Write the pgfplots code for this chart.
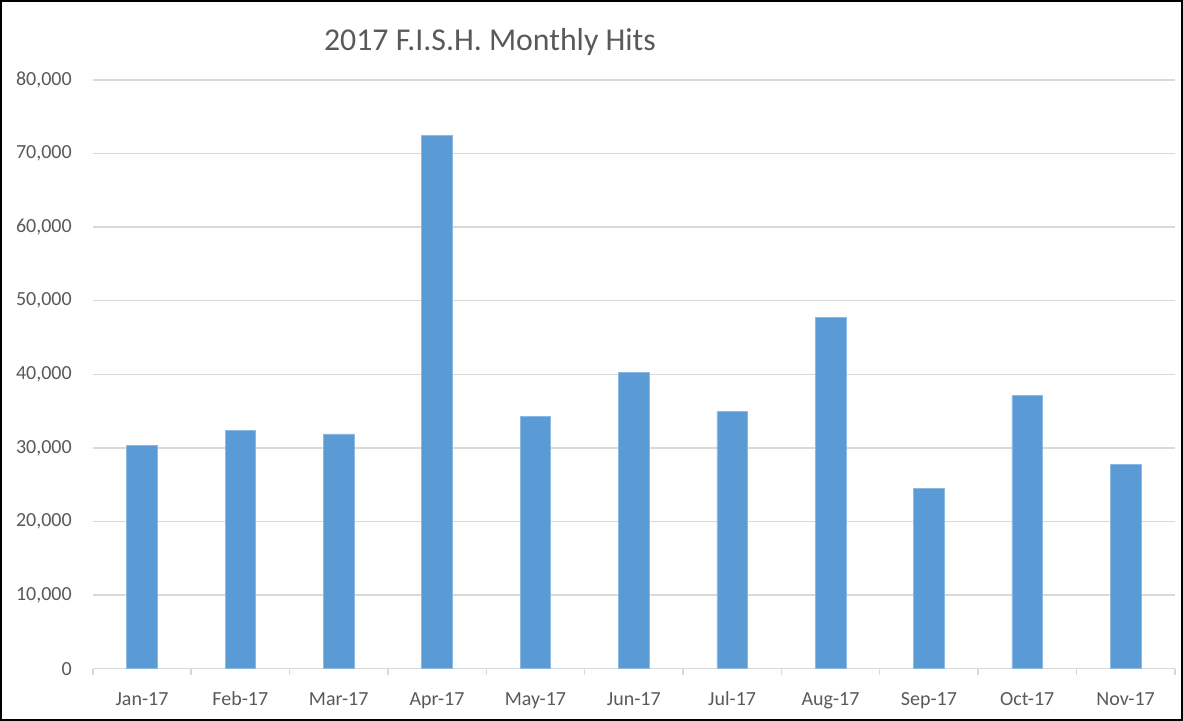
\documentclass[border=0pt]{standalone}
\usepackage{pgfplots}
\pgfplotsset{compat=1.18}
\usepackage{fontspec}
\setmainfont{Carlito}
\definecolor{barblue}{HTML}{5B9BD5}
\definecolor{txtgray}{HTML}{595959}
\definecolor{gridgray}{HTML}{D9D9D9}
\begin{document}
\begin{tikzpicture}
\path[use as bounding box] (-46.4pt,-26.15pt) rectangle (545.1pt,334.35pt);
\draw[black, line width=1.2pt] (-45.8pt,-25.55pt) rectangle (544.5pt,333.75pt);
\begin{axis}[
  at={(0,0)}, anchor=south west,
  scale only axis,
  width=541pt, height=294.4pt,
  xmin=-0.5, xmax=10.5,
  ymin=0, ymax=80000,
  ytick={0,10000,...,80000},
  xtick={0,...,10},
  xticklabels={Jan-17,Feb-17,Mar-17,Apr-17,May-17,Jun-17,Jul-17,Aug-17,Sep-17,Oct-17,Nov-17},
  minor xtick={-0.5,0.5,...,10.5},
  major x tick style={draw=none},
  minor x tick style={draw=gridgray, line width=0.7pt},
  minor tick length=3pt,
  tick align=outside,
  xtick pos=bottom,
  ytick pos=left,
  ytick style={draw=none},
  axis x line*=bottom,
  axis y line*=left,
  y axis line style={draw=none},
  x axis line style={draw=gridgray, line width=0.75pt, -},
  ymajorgrids,
  grid style={draw=gridgray, line width=0.75pt},
  scaled y ticks=false,
  yticklabel={\pgfmathprintnumber[fixed, 1000 sep={,}]{\tick}},
  /pgf/number format/assume math mode=true,
  ticklabel style={font=\fontsize{10}{12}\selectfont, text=txtgray},
  yticklabel style={anchor=east, xshift=-2.75pt},
  xticklabel style={anchor=base, yshift=-14pt},
  ybar, bar width=15.3pt,
  clip=false,
]
\addplot[fill=barblue, draw=barblue!70!white, line width=0.3pt] coordinates {
(0,30300) (1,32400) (2,31900) (3,72450) (4,34250) (5,40300)
(6,34950) (7,47750) (8,24500) (9,37100) (10,27800)
};
\end{axis}
\node[text=txtgray, font=\fontsize{15.9}{18}\selectfont] at (198.6pt,313.35pt) {2017 F.I.S.H. Monthly Hits};
\end{tikzpicture}
\end{document}
